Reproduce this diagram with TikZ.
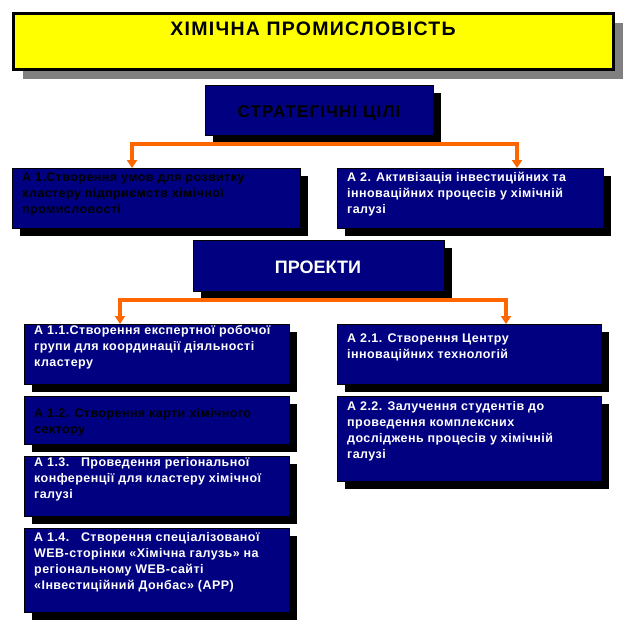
\documentclass[tikz,border=0pt]{standalone}
\usepackage{fontspec}
\setmainfont{Liberation Sans}
\newfontfamily\headfont[LetterSpace=6.5]{Liberation Sans}
\newfontfamily\boxfont[LetterSpace=3.5]{Liberation Sans}
\usetikzlibrary{arrows.meta,shadows}
\definecolor{navy}{RGB}{0,0,128}
\definecolor{orng}{RGB}{255,102,0}
\definecolor{yel}{RGB}{255,255,0}
\definecolor{shgray}{RGB}{128,128,128}

\begin{document}
\begin{tikzpicture}[x=1pt,y=-1pt,
  blk/.style={draw=black,fill=navy,anchor=north west,inner sep=0pt,
    drop shadow={shadow xshift=8pt,shadow yshift=-8pt,fill=black,opacity=1}},
  txt/.style={anchor=north west,inner sep=0pt,align=left,
    font=\boxfont\bfseries\fontsize{12.5}{16}\selectfont},
  link/.style={draw=orng,line width=4.5pt,
    {Triangle[width=10pt,length=8pt]}-{Triangle[width=10pt,length=8pt]}}]
  \useasboundingbox[fill=white] (0,0) rectangle (625,625);

  % title
  \node[draw=black,fill=yel,line width=3pt,anchor=north west,inner sep=0pt,
    minimum width=600pt,minimum height=56pt,
    drop shadow={shadow xshift=9pt,shadow yshift=-9pt,fill=shgray,opacity=1}]
    (title) at (12,12) {};
  \node[anchor=base,font=\headfont\bfseries\fontsize{19.5}{20}\selectfont] (titlet) at (313,35) {ХІМІЧНА ПРОМИСЛОВІСТЬ};

  % goals
  \node[blk,minimum width=228pt,minimum height=50pt] (goals) at (205,85) {};
  \node[anchor=base,font=\headfont\bfseries\fontsize{17}{18}\selectfont] (goalst) at (319,117) {СТРАТЕГІЧНІ ЦІЛІ};
  \node[blk,minimum width=288pt,minimum height=60pt] (a1) at (12,168) {};
  \node[blk,minimum width=266pt,minimum height=60pt] (a2) at (337,168) {};
  \node[txt] (a1t) at (22,171) {\rule{0pt}{10pt}А 1.Створення умов для розвитку\\кластеру підприємств хімічної\\промисловості};
  \node[txt,white] (a2t) at (347,171) {\rule{0pt}{10pt}А 2. Активізація інвестиційних та\\інноваційних процесів у хімічній\\галузі};
  \coordinate (l1) at (132,144);
  \coordinate (r1) at (517,144);
  \draw[link] (l1 |- a1.north) -- (l1) -- (r1) -- (r1 |- a2.north);

  % projects
  \node[blk,minimum width=251pt,minimum height=51pt] (proj) at (193,240) {};
  \node[anchor=base,white,font=\bfseries\fontsize{18}{18}\selectfont] (projt) at (318,273) {ПРОЕКТИ};
  \node[blk,minimum width=265pt,minimum height=60pt] (a11) at (24,324) {};
  \node[blk,minimum width=265pt,minimum height=48pt] (a12) at (24,396) {};
  \node[blk,minimum width=265pt,minimum height=60pt] (a13) at (24,456) {};
  \node[blk,minimum width=265pt,minimum height=84pt] (a14) at (24,528) {};
  \node[blk,minimum width=264pt,minimum height=60pt] (a21) at (337,324) {};
  \node[blk,minimum width=264pt,minimum height=85pt] (a22) at (337,396) {};
  \node[txt,white] (a11t) at (34,324) {\rule{0pt}{10pt}А 1.1.Створення експертної робочої\\групи для координації діяльності\\кластеру};
  \node[txt] (a12t) at (34,407) {\rule{0pt}{10pt}А 1.2. Створення карти хімічного\\сектору};
  \node[txt,white] (a13t) at (34,456) {\rule{0pt}{10pt}А 1.3.\ \ \ Проведення регіональної\\конференції для кластеру хімічної\\галузі};
  \node[txt,white] (a14t) at (34,531) {\rule{0pt}{10pt}А 1.4.\ \ \ Створення спеціалізованої\\WEB-сторінки «Хімічна галузь» на\\регіональному WEB-сайті\\«Інвестиційний Донбас» (АРР)};
  \node[txt,white] (a21t) at (347,332) {\rule{0pt}{10pt}А 2.1. Створення Центру\\інноваційних технологій};
  \node[txt,white] (a22t) at (347,400) {\rule{0pt}{10pt}А 2.2. Залучення студентів до\\проведення комплексних\\досліджень процесів у хімічній\\галузі};
  \coordinate (l2) at (120,300);
  \coordinate (r2) at (506,300);
  \draw[link] (l2 |- a11.north) -- (l2) -- (r2) -- (r2 |- a21.north);
\end{tikzpicture}
\end{document}
